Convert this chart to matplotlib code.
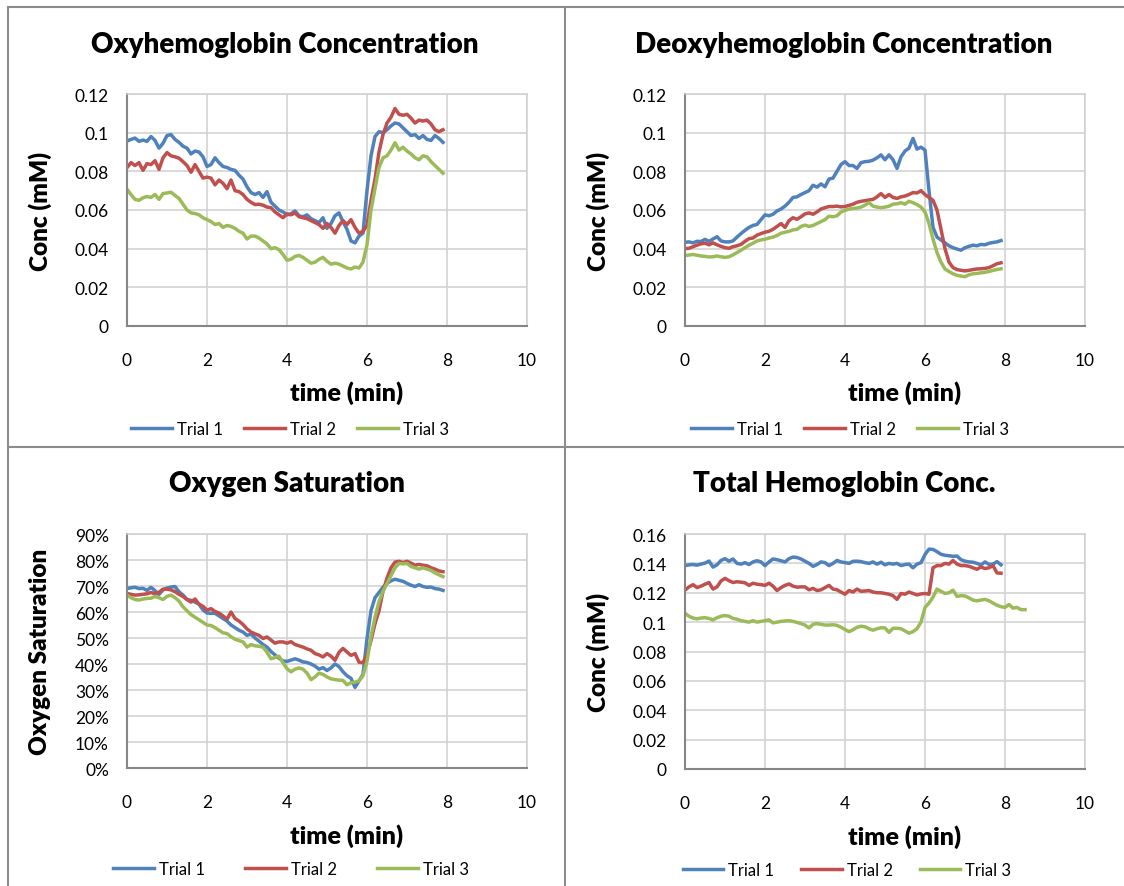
import numpy as np
import matplotlib
matplotlib.use("Agg")
import matplotlib.pyplot as plt
from matplotlib.lines import Line2D
from matplotlib.ticker import FuncFormatter, MultipleLocator

plt.rcParams["font.family"] = ["Lato", "DejaVu Sans"]

# sample times (min), one reading every 0.1 min
time_min = np.round(np.arange(80) * 0.1, 1)
time_total3 = np.round(np.arange(86) * 0.1, 1)

trial_labels = ["Trial 1", "Trial 2", "Trial 3"]
trial_colors = ["#4F81BD", "#C0504D", "#9BBB59"]

oxy_t1 = [0.0957, 0.0965, 0.0972, 0.0955, 0.0962, 0.0955, 0.0980, 0.0960, 0.0920, 0.0945,
          0.0985, 0.0990, 0.0965, 0.0950, 0.0930, 0.0920, 0.0890, 0.0905, 0.0900, 0.0875,
          0.0825, 0.0835, 0.0870, 0.0845, 0.0825, 0.0820, 0.0810, 0.0805, 0.0780, 0.0760,
          0.0720, 0.0690, 0.0680, 0.0690, 0.0665, 0.0695, 0.0640, 0.0620, 0.0600, 0.0590,
          0.0575, 0.0580, 0.0595, 0.0570, 0.0565, 0.0575, 0.0555, 0.0545, 0.0535, 0.0560,
          0.0505, 0.0530, 0.0570, 0.0585, 0.0540, 0.0500, 0.0440, 0.0430, 0.0465, 0.0480,
          0.0700, 0.0880, 0.0980, 0.1005, 0.1000, 0.1015, 0.1035, 0.1050, 0.1045, 0.1025,
          0.1005, 0.0985, 0.0990, 0.0970, 0.0985, 0.0965, 0.0960, 0.0985, 0.0970, 0.0950]
oxy_t2 = [0.0819, 0.0845, 0.0830, 0.0845, 0.0805, 0.0840, 0.0835, 0.0855, 0.0810, 0.0870,
          0.0897, 0.0880, 0.0875, 0.0868, 0.0850, 0.0830, 0.0795, 0.0835, 0.0800, 0.0765,
          0.0770, 0.0765, 0.0730, 0.0755, 0.0738, 0.0710, 0.0755, 0.0700, 0.0695, 0.0680,
          0.0655, 0.0640, 0.0628, 0.0630, 0.0625, 0.0615, 0.0612, 0.0590, 0.0575, 0.0560,
          0.0580, 0.0575, 0.0585, 0.0565, 0.0560, 0.0555, 0.0545, 0.0535, 0.0525, 0.0505,
          0.0530, 0.0510, 0.0480, 0.0520, 0.0545, 0.0525, 0.0550, 0.0510, 0.0480, 0.0490,
          0.0520, 0.0650, 0.0760, 0.0900, 0.0990, 0.1050, 0.1080, 0.1125, 0.1095, 0.1090,
          0.1095, 0.1075, 0.1050, 0.1065, 0.1060, 0.1065, 0.1045, 0.1015, 0.1005, 0.1015]
oxy_t3 = [0.0707, 0.0680, 0.0655, 0.0650, 0.0663, 0.0670, 0.0665, 0.0680, 0.0655, 0.0685,
          0.0688, 0.0692, 0.0675, 0.0660, 0.0630, 0.0600, 0.0585, 0.0582, 0.0575, 0.0560,
          0.0550, 0.0540, 0.0525, 0.0530, 0.0510, 0.0520, 0.0515, 0.0505, 0.0490, 0.0480,
          0.0450, 0.0465, 0.0465, 0.0455, 0.0440, 0.0425, 0.0400, 0.0405, 0.0395, 0.0370,
          0.0340, 0.0345, 0.0360, 0.0365, 0.0355, 0.0340, 0.0325, 0.0330, 0.0345, 0.0355,
          0.0335, 0.0320, 0.0325, 0.0320, 0.0310, 0.0300, 0.0295, 0.0305, 0.0300, 0.0330,
          0.0420, 0.0600, 0.0710, 0.0820, 0.0870, 0.0880, 0.0910, 0.0948, 0.0910, 0.0925,
          0.0905, 0.0890, 0.0870, 0.0860, 0.0880, 0.0875, 0.0850, 0.0830, 0.0810, 0.0790]

deoxy_t1 = [0.0433, 0.0435, 0.0430, 0.0438, 0.0437, 0.0448, 0.0438, 0.0450, 0.0462, 0.0440,
            0.0435, 0.0435, 0.0440, 0.0460, 0.0478, 0.0495, 0.0510, 0.0520, 0.0525, 0.0550,
            0.0575, 0.0570, 0.0578, 0.0595, 0.0605, 0.0620, 0.0640, 0.0665, 0.0668, 0.0680,
            0.0690, 0.0700, 0.0728, 0.0718, 0.0735, 0.0720, 0.0760, 0.0765, 0.0800, 0.0835,
            0.0850, 0.0830, 0.0830, 0.0815, 0.0845, 0.0850, 0.0852, 0.0858, 0.0870, 0.0885,
            0.0860, 0.0885, 0.0860, 0.0815, 0.0875, 0.0905, 0.0920, 0.0970, 0.0915, 0.0925,
            0.0910, 0.0700, 0.0510, 0.0460, 0.0445, 0.0430, 0.0415, 0.0405, 0.0398, 0.0392,
            0.0405, 0.0412, 0.0418, 0.0415, 0.0422, 0.0420, 0.0428, 0.0432, 0.0435, 0.0442]
deoxy_t2 = [0.0400, 0.0402, 0.0410, 0.0418, 0.0425, 0.0428, 0.0420, 0.0430, 0.0420, 0.0412,
            0.0405, 0.0402, 0.0410, 0.0415, 0.0422, 0.0438, 0.0452, 0.0455, 0.0470, 0.0478,
            0.0485, 0.0490, 0.0500, 0.0515, 0.0530, 0.0510, 0.0545, 0.0560, 0.0552, 0.0565,
            0.0580, 0.0585, 0.0578, 0.0590, 0.0605, 0.0612, 0.0618, 0.0618, 0.0620, 0.0616,
            0.0618, 0.0624, 0.0630, 0.0640, 0.0645, 0.0648, 0.0652, 0.0655, 0.0668, 0.0685,
            0.0665, 0.0680, 0.0665, 0.0660, 0.0668, 0.0672, 0.0680, 0.0690, 0.0688, 0.0700,
            0.0680, 0.0665, 0.0650, 0.0600, 0.0500, 0.0400, 0.0330, 0.0302, 0.0292, 0.0288,
            0.0285, 0.0288, 0.0292, 0.0295, 0.0296, 0.0298, 0.0302, 0.0312, 0.0322, 0.0327]
deoxy_t3 = [0.0365, 0.0367, 0.0370, 0.0366, 0.0362, 0.0360, 0.0357, 0.0358, 0.0362, 0.0358,
            0.0355, 0.0358, 0.0368, 0.0380, 0.0392, 0.0405, 0.0418, 0.0428, 0.0440, 0.0445,
            0.0449, 0.0455, 0.0460, 0.0468, 0.0480, 0.0485, 0.0490, 0.0497, 0.0500, 0.0515,
            0.0522, 0.0515, 0.0520, 0.0530, 0.0540, 0.0550, 0.0568, 0.0565, 0.0570, 0.0590,
            0.0598, 0.0605, 0.0608, 0.0610, 0.0615, 0.0625, 0.0638, 0.0620, 0.0615, 0.0612,
            0.0615, 0.0620, 0.0630, 0.0632, 0.0638, 0.0630, 0.0645, 0.0638, 0.0628, 0.0615,
            0.0590, 0.0530, 0.0450, 0.0380, 0.0330, 0.0295, 0.0282, 0.0270, 0.0262, 0.0258,
            0.0255, 0.0265, 0.0270, 0.0272, 0.0275, 0.0278, 0.0282, 0.0288, 0.0292, 0.0296]

# oxygen saturation in percent
sat_t1 = [69.0, 69.3, 69.5, 69.0, 69.1, 68.3, 69.5, 68.2, 66.8, 68.5,
          69.2, 69.6, 69.8, 67.8, 66.5, 64.8, 64.5, 63.8, 63.0, 60.8,
          59.6, 59.5, 59.5, 58.5, 57.5, 56.5, 55.0, 54.0, 53.0, 52.3,
          51.0, 51.5, 50.0, 48.8, 47.5, 46.5, 44.8, 43.5, 42.2, 41.2,
          41.0, 41.5, 42.0, 41.5, 40.8, 40.6, 40.0, 39.2, 38.0, 38.6,
          37.5, 38.5, 40.0, 39.0, 37.0, 35.5, 34.5, 31.0, 33.5, 36.0,
          49.8, 60.5, 65.5, 67.5, 69.5, 71.0, 72.0, 72.6, 72.2, 71.8,
          71.0, 70.3, 69.8, 70.5, 69.8, 69.5, 69.6, 69.0, 68.8, 68.3]
sat_t2 = [67.1, 66.8, 66.5, 66.6, 66.8, 67.0, 67.5, 67.0, 67.6, 68.8,
          68.8, 68.5, 67.8, 66.8, 66.0, 64.8, 63.8, 65.0, 63.0, 62.2,
          60.7, 61.3, 60.2, 59.6, 58.5, 57.2, 60.0, 57.5, 56.5, 55.2,
          53.5, 52.3, 51.6, 51.0, 49.8, 50.4, 49.2, 48.0, 48.5, 48.5,
          48.0, 48.6, 47.5, 47.0, 46.5, 45.8, 45.3, 44.0, 43.5, 42.7,
          44.0, 43.0, 41.4, 44.5, 46.0, 44.6, 43.3, 44.0, 40.7, 40.5,
          43.5, 49.0, 55.5, 60.5, 68.0, 73.0, 77.0, 79.2, 79.5, 79.0,
          79.5, 78.8, 78.0, 78.3, 78.0, 77.8, 77.0, 76.5, 75.8, 75.5]
sat_t3 = [66.5, 65.5, 64.8, 64.6, 65.0, 65.2, 65.3, 66.0, 65.5, 64.8,
          66.0, 66.5, 65.5, 64.2, 62.0, 60.5, 59.0, 58.0, 57.0, 56.0,
          55.0, 54.8, 54.0, 53.0, 52.0, 51.7, 50.5, 49.5, 49.0, 48.5,
          46.5, 47.5, 47.0, 46.8, 46.5, 44.5, 42.0, 42.5, 43.0, 40.5,
          38.2, 37.0, 38.0, 38.5, 38.0, 36.5, 34.0, 35.0, 36.5, 36.0,
          35.0, 34.3, 34.0, 33.8, 33.7, 32.0, 32.8, 33.0, 33.5, 35.5,
          41.0, 50.5, 58.0, 64.0, 68.0, 71.0, 74.0, 77.0, 78.7, 78.5,
          78.7, 77.5, 77.0, 76.5, 77.0, 76.5, 76.0, 75.0, 74.3, 73.6]

total_t1 = [0.1385, 0.1390, 0.1392, 0.1388, 0.1395, 0.1402, 0.1416, 0.1375, 0.1390, 0.1420,
            0.1432, 0.1415, 0.1430, 0.1400, 0.1395, 0.1405, 0.1392, 0.1410, 0.1418, 0.1410,
            0.1385, 0.1410, 0.1430, 0.1425, 0.1418, 0.1410, 0.1432, 0.1443, 0.1440, 0.1430,
            0.1415, 0.1400, 0.1380, 0.1392, 0.1410, 0.1405, 0.1385, 0.1400, 0.1420, 0.1410,
            0.1405, 0.1400, 0.1414, 0.1415, 0.1412, 0.1405, 0.1400, 0.1410, 0.1395, 0.1408,
            0.1390, 0.1400, 0.1395, 0.1400, 0.1385, 0.1392, 0.1395, 0.1370, 0.1395, 0.1405,
            0.1460, 0.1497, 0.1495, 0.1480, 0.1462, 0.1455, 0.1452, 0.1448, 0.1450, 0.1425,
            0.1415, 0.1410, 0.1408, 0.1400, 0.1390, 0.1410, 0.1393, 0.1395, 0.1412, 0.1390]
total_t2 = [0.1218, 0.1240, 0.1255, 0.1235, 0.1245, 0.1258, 0.1270, 0.1225, 0.1240, 0.1280,
            0.1298, 0.1282, 0.1270, 0.1275, 0.1272, 0.1268, 0.1250, 0.1265, 0.1258, 0.1255,
            0.1250, 0.1265, 0.1245, 0.1215, 0.1235, 0.1250, 0.1260, 0.1245, 0.1238, 0.1240,
            0.1240, 0.1220, 0.1230, 0.1215, 0.1220, 0.1235, 0.1250, 0.1225, 0.1220, 0.1205,
            0.1190, 0.1215, 0.1205, 0.1225, 0.1210, 0.1212, 0.1215, 0.1205, 0.1200, 0.1200,
            0.1195, 0.1190, 0.1180, 0.1155, 0.1195, 0.1190, 0.1205, 0.1195, 0.1185, 0.1192,
            0.1195, 0.1190, 0.1370, 0.1385, 0.1385, 0.1400, 0.1395, 0.1420, 0.1395, 0.1385,
            0.1385, 0.1380, 0.1370, 0.1360, 0.1375, 0.1365, 0.1370, 0.1385, 0.1335, 0.1333]
total_t3 = [0.1060, 0.1040, 0.1028, 0.1022, 0.1028, 0.1030, 0.1025, 0.1015, 0.1030, 0.1040,
            0.1045, 0.1040, 0.1025, 0.1020, 0.1010, 0.1005, 0.1000, 0.1010, 0.1000, 0.1005,
            0.1010, 0.1015, 0.0995, 0.1000, 0.1005, 0.1008, 0.1010, 0.1005, 0.0998, 0.0990,
            0.0980, 0.0960, 0.0985, 0.0990, 0.0985, 0.0980, 0.0980, 0.0982, 0.0978, 0.0965,
            0.0950, 0.0935, 0.0948, 0.0965, 0.0972, 0.0968, 0.0955, 0.0945, 0.0955, 0.0962,
            0.0960, 0.0930, 0.0958, 0.0958, 0.0955, 0.0940, 0.0925, 0.0935, 0.0955, 0.1000,
            0.1100, 0.1130, 0.1170, 0.1225, 0.1210, 0.1195, 0.1200, 0.1218, 0.1175, 0.1180,
            0.1178, 0.1165, 0.1150, 0.1145, 0.1150, 0.1155, 0.1145, 0.1130, 0.1115, 0.1105,
            0.1100, 0.1120, 0.1095, 0.1100, 0.1085, 0.1085]

W, H = 1124, 887
GRID = "#D0D0D0"
AXIS = "#868686"
BORDER = "#8C8C8C"


def px_axes(left, top, right, bottom):
    # plot area given in pixels of the final picture
    return [left / W, 1 - bottom / H, (right - left) / W, (bottom - top) / H]


def draw_panel(fig, rect, series, title, title_xy, ylabel, ymax, ystep, yfmt,
               legend_xy, col_space):
    ax = fig.add_axes(rect)
    for (x, y), color, label in zip(series, trial_colors, trial_labels):
        ax.plot(x, y, color=color, lw=2.5, label=label, solid_joinstyle="round")
    ax.set_xlim(0, 10)
    ax.set_ylim(0, ymax)
    ax.xaxis.set_major_locator(MultipleLocator(2))
    ax.yaxis.set_major_locator(MultipleLocator(ystep))
    ax.yaxis.set_major_formatter(FuncFormatter(yfmt))
    ax.grid(True, color=GRID, lw=1.1)
    ax.set_axisbelow(True)
    for side in ["top", "right"]:
        ax.spines[side].set_color(GRID)
        ax.spines[side].set_linewidth(1.1)
    for side in ["left", "bottom"]:
        ax.spines[side].set_color(AXIS)
        ax.spines[side].set_linewidth(1.5)
    ax.tick_params(axis="both", length=0, labelsize=12.5, colors="black")
    ax.tick_params(axis="y", pad=13)
    ax.tick_params(axis="x", pad=19)

    ax.set_ylabel(ylabel, fontsize=17.5, fontweight="heavy")
    ax.yaxis.set_label_coords(-0.2175, 0.5)
    ax.yaxis.label.set_va("center")
    ax.set_xlabel("time (min)", fontsize=18, fontweight="heavy")
    ax.xaxis.set_label_coords(0.55, -0.285)
    ax.xaxis.label.set_va("center")

    fig.text(title_xy[0] / W, 1 - title_xy[1] / H, title, fontsize=20,
             fontweight="heavy", ha="center", va="center")
    ax.legend(loc="center", bbox_to_anchor=legend_xy, ncol=3, frameon=False,
              fontsize=12, handlelength=2.45, handletextpad=0.3,
              columnspacing=col_space)
    return ax


def fmt_general(v, pos):
    return f"{v:g}"


def fmt_percent(v, pos):
    return f"{v:.0f}%"


fig = plt.figure(figsize=(W / 100, H / 100), dpi=100)

draw_panel(fig, px_axes(127, 95, 527, 327),
           [(time_min, oxy_t1), (time_min, oxy_t2), (time_min, oxy_t3)],
           "Oxyhemoglobin Concentration", (285, 45), "Conc (mM)",
           0.12, 0.02, fmt_general, ((290 - 127) / 400, (327 - 430) / 232), 1.25)

draw_panel(fig, px_axes(685, 95, 1085, 327),
           [(time_min, deoxy_t1), (time_min, deoxy_t2), (time_min, deoxy_t3)],
           "Deoxyhemoglobin Concentration", (844, 45), "Conc (mM)",
           0.12, 0.02, fmt_general, ((850 - 685) / 400, (327 - 430) / 232), 1.25)

draw_panel(fig, px_axes(127, 535, 527, 769),
           [(time_min, sat_t1), (time_min, sat_t2), (time_min, sat_t3)],
           "Oxygen Saturation", (287, 484), "Oxygen Saturation",
           90, 10, fmt_percent, ((291 - 127) / 400, (769 - 870) / 234), 2.4)

draw_panel(fig, px_axes(685, 535, 1085, 770),
           [(time_min, total_t1), (time_min, total_t2), (time_total3, total_t3)],
           "Total Hemoglobin Conc.", (844, 484), "Conc (mM)",
           0.16, 0.02, fmt_general, ((847 - 685) / 400, (770 - 871) / 235), 1.6)

# chart borders like the spreadsheet screenshot
for xs, ys in [([8, W], [8, 8]), ([8, 8], [8, H]), ([565, 565], [8, H]),
               ([8, W], [448, 448])]:
    fig.add_artist(Line2D([x / W for x in xs], [1 - y / H for y in ys],
                          color=BORDER, lw=1.5))

fig.savefig("out.png", dpi=100)
